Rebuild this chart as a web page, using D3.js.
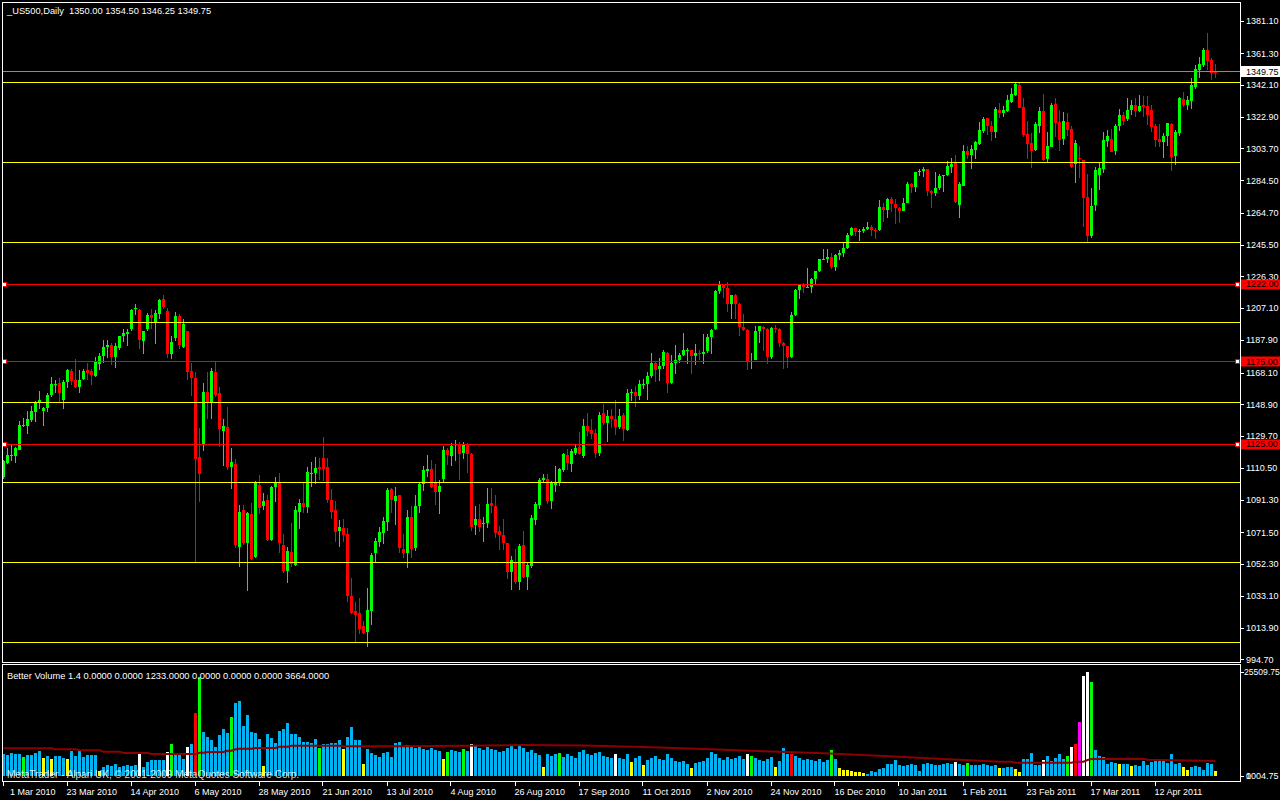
<!DOCTYPE html>
<html><head><meta charset="utf-8">
<script src="https://cdnjs.cloudflare.com/ajax/libs/d3/7.8.5/d3.min.js"></script>
<style>
html,body{margin:0;padding:0;background:#000;overflow:hidden}
text{font-family:"Liberation Sans",Arial,"DejaVu Sans",sans-serif}
</style></head>
<body><svg id="c" width="1280" height="800"></svg>
<script>
// ---------------- DATA ----------------
const opens=[
1105.1,1113.2,1117.5,1117.8,1121.3,1136,1135.8,1139.4,1144.5,1150.1,
1145.1,1146.7,1154.5,1161.2,1162,1151.5,1162.4,1169,1163.6,1159.2,
1164,1169.7,1169,1166,1173.3,1178.1,1183.4,1184.8,1177.7,1183,
1190.4,1191.4,1194.2,1206.3,1205.7,1187.5,1194.5,1202.7,1198,1203.4,
1212.5,1205.4,1179.3,1188.8,1202.3,1183.8,1193,1169,1164.6,1117.2,
1124.9,1156.6,1150.1,1168.6,1156,1132.8,1135,1110.8,1112.8,1062.4,
1085,1064.8,1082.6,1056.3,1100.1,1087.4,1091,1066.8,1099.1,1101.5,
1063.8,1048.3,1059.8,1051.7,1084,1089,1087,1107.2,1107.2,1111.2,
1116.2,1111.2,1091,1085,1072.5,1074.1,1070.5,1033,1023.9,1022.5,
1014.8,1011.4,1024.1,1058.8,1065.8,1070.9,1077.9,1097.5,1090.6,1093.8,
1061.6,1058.8,1080.9,1062,1087.4,1100.5,1108.6,1109.8,1101.5,1096.1,
1103.7,1121.3,1117.9,1124.3,1124.7,1119.2,1124.7,1118.8,1075.9,1079.3,
1076.9,1077.3,1089,1087.4,1072.3,1069.9,1064.8,1047.7,1053.7,1041.6,
1063.8,1044.2,1051.3,1078.9,1088,1103.1,1103.7,1090.4,1100.1,1102.1,
1109.2,1118.2,1112.8,1119.2,1122.9,1117.6,1135.8,1133.4,1131.3,1119.2,
1143.4,1137.8,1141.8,1139.8,1135,1142.4,1133.4,1156,1156.5,1154,
1161,1161.5,1166,1174,1170,1172,1180,1162,1174,1176,
1179,1181.5,1181.6,1178.3,1179.7,1179.3,1181,1189.6,1194.5,1217.5,
1221.5,1219.5,1209.5,1215,1209.8,1195.5,1194,1174.8,1176,1193,
1196,1194.4,1177.3,1195,1194.5,1186,1184.5,1177.3,1203,1218,
1221.2,1219.6,1220.2,1224.8,1229.5,1236.9,1237,1238.1,1231.7,1239.4,
1240.4,1243.6,1251.1,1255.3,1253.3,1254,1255,1256.3,1254.4,1254.1,
1268.3,1266.5,1273,1270.2,1267.8,1266.1,1271,1282.3,1280.1,1289.5,
1290,1291.3,1278.2,1276.6,1279.7,1287.1,1287.5,1292.7,1295.1,1269.5,
1281,1302.2,1299.7,1302.8,1306.4,1314.5,1321.9,1317.5,1313.9,1327,
1325,1326.6,1332,1336,1342.1,1328.6,1312.4,1306.8,1302.8,1317.3,
1326.4,1297.3,1304.8,1330.6,1319.9,1309.4,1319.9,1315.5,1294.3,1298.1,
1296.7,1274.5,1250.8,1269.5,1287.6,1291.3,1308.2,1309.4,1302.2,1317.1,
1323.9,1321.3,1327,1330,1326.6,1330,1329.4,1327,1317.3,1309.4,
1307.8,1311.2,1318.5,1299.1,1313.3,1333.6,1330,1332.6,1340.9,1351.4,
1354.2,1363.3,1357.2,1350];
const highs=[
1115.2,1122.3,1124.3,1123.3,1138.8,1140.4,1144.9,1147.9,1150.9,1157,
1147.5,1156,1165.4,1163.6,1165,1163.6,1170.5,1170.5,1176.3,1169.7,
1170.5,1174.1,1170.5,1177.7,1179.8,1188,1188,1185.8,1185.8,1190.5,
1194.7,1194.5,1206.6,1209.4,1206.5,1193.4,1204.1,1206.5,1205.8,1212.8,
1215.3,1206.9,1190.5,1204.9,1203.5,1200.6,1193.5,1174.1,1168.2,1134.4,
1162,1168.4,1171.1,1174.7,1159.6,1140,1147.5,1122.7,1115.8,1088,
1088,1084,1089,1102.7,1106.2,1095.1,1094,1099.5,1105.1,1107.6,
1070.5,1062.8,1077.3,1087.4,1091.7,1101.1,1111.2,1114.2,1117.2,1116.6,
1128.9,1116.6,1097.5,1090.4,1078.9,1079.5,1073.9,1044,1029.3,1031.5,
1017.8,1038,1059.2,1068.2,1074.9,1080.9,1098.5,1098.1,1098.7,1094.3,
1070.5,1084.9,1087.4,1094,1102.1,1111.6,1118.2,1115.2,1112.8,1103.1,
1123.7,1122.7,1125.7,1127.3,1126.3,1126.3,1125.7,1119.3,1087.4,1088.6,
1080.9,1098.1,1098.1,1094,1075.3,1079.5,1065.3,1057.1,1061.4,1064.3,
1072.3,1052.7,1081.9,1090,1104.5,1106.7,1106.7,1102.7,1111.6,1110.2,
1119.6,1121.7,1121.7,1124.3,1131.9,1140,1143.4,1140,1133.8,1144.4,
1149.1,1145.5,1145.9,1151.5,1145.9,1143.4,1158,1158.5,1160,1163.5,
1164.5,1168.5,1180,1175,1177,1181.5,1180.5,1178.5,1185,1180,
1192,1183,1182,1185.5,1181.5,1191.5,1191.5,1194.5,1218,1223.5,
1222,1223,1215,1215.5,1210,1203.5,1194.5,1180,1196.5,1196.5,
1196.5,1194.8,1195.5,1197,1195,1186.5,1184.5,1204.5,1218.5,1222,
1222.5,1231.5,1225.5,1228,1237,1243,1243,1240.5,1240,1242.3,
1246.7,1252.3,1256,1255.8,1255,1256.4,1259,1257.5,1255.8,1272.5,
1270.5,1274,1274.5,1273,1268,1274,1283.2,1283,1289.5,1291,
1292.3,1291.5,1278.5,1289.7,1288.2,1287.6,1296,1297.7,1299.7,1283.6,
1305.8,1305.2,1305.8,1308.2,1319.9,1322.9,1322.3,1320.3,1329,1331,
1329.4,1336,1340.1,1343.1,1343.1,1334,1320.3,1312.8,1319.9,1329,
1336.6,1313.9,1331,1334.4,1327,1326,1325.4,1317.3,1308.8,1305.2,
1296.7,1288.3,1279.6,1292.7,1295.7,1313.5,1314.9,1315.5,1318.3,1327.6,
1326,1334.4,1333,1334.4,1336,1335.4,1335.4,1330,1318.5,1318.5,
1312.8,1319.3,1318.9,1314.9,1335,1338,1335.4,1346.1,1354.2,1358.8,
1364.3,1373.3,1358.2,1354.5];
const lows=[
1104,1112.8,1114.8,1113.6,1121,1135,1131,1138.4,1138.2,1145.9,
1135.8,1144.3,1153.5,1155.5,1150.3,1146.1,1159,1160.6,1159,1155.5,
1163.6,1163.6,1160.6,1165.6,1169.7,1174.1,1176.7,1172.7,1171.1,1181.5,
1186.5,1184.3,1193.5,1203,1182.3,1179.2,1193.5,1194.4,1185.7,1200.6,
1206.6,1176.7,1176.3,1187.5,1182.4,1183,1163.6,1153.9,1053.7,1090,
1120.7,1140,1140,1153.1,1123.3,1111.6,1109.2,1097.7,1062.2,1050.3,
1064,1036.2,1054.5,1055.7,1082.6,1085,1066,1066.2,1090,1058.8,
1046.7,1040.6,1050.7,1051.1,1073.5,1083.4,1083.4,1099.1,1100.7,1103.1,
1102.5,1089,1079.5,1065.8,1062.4,1065.8,1029.5,1022.1,1005.3,1010,
1010,1002.3,1015.4,1053.1,1062.8,1064.4,1072.5,1083,1076.1,1058.8,
1055.9,1050.1,1055.9,1060.2,1083.4,1096.7,1104.7,1098.1,1088,1082.6,
1101.1,1112.2,1111.6,1114.8,1103.1,1115.8,1107.5,1072.5,1069.9,1071.9,
1065.8,1073.9,1083,1067.8,1060.8,1060.8,1043.2,1036.6,1040.5,1036.6,
1044,1036.6,1050.1,1075.9,1085.6,1101.5,1088.6,1085.6,1096.1,1099.5,
1108.2,1109.2,1108.2,1118.2,1118.2,1116.6,1129.9,1127.7,1116.2,1117.6,
1136.4,1126.3,1134.8,1130.3,1133.8,1126.9,1133,1151,1147.5,1151.5,
1158,1151.5,1165,1162.5,1163,1170.5,1155.5,1161,1167,1174,
1178,1173.5,1167.5,1173,1175.5,1173.5,1180,1179.5,1194,1215.5,
1213.5,1205,1200.5,1200.5,1190.5,1193.5,1169.5,1170,1175.5,1186,
1181,1173.5,1176.5,1192,1183.5,1170.5,1171,1177,1202.5,1212.5,
1216.5,1219.5,1216,1222,1229,1236.5,1234.5,1230.5,1229.5,1236.4,
1238,1243,1250.5,1250.5,1248,1252.7,1254.5,1250.7,1248.7,1253.5,
1259,1261.5,1265,1258,1258.5,1265.8,1270.5,1276.8,1277.4,1287,
1286.3,1275.2,1267.5,1275,1278.8,1277.4,1287,1289.1,1270.5,1261.8,
1281,1297.1,1291.3,1297.3,1305.8,1312.9,1311.8,1308.2,1309.8,1321.9,
1322.5,1326,1331,1335.4,1328,1310.4,1297.3,1292.1,1302.4,1312.9,
1296.3,1295.7,1304.4,1310.8,1302.4,1305.8,1311.2,1292.1,1283,1285.6,
1256.4,1246.3,1249.3,1266.1,1278.6,1289.1,1304.8,1301.8,1299.7,1314.3,
1317.9,1320.5,1323.9,1322.9,1326,1322.5,1317.9,1313.9,1304.8,1304.8,
1298.1,1305.2,1290.3,1293.7,1311.2,1329,1327,1327.6,1339.7,1346.3,
1353.2,1351.2,1345.1,1346.25];
const closes=[
1114.8,1118.2,1118.2,1122.3,1136.4,1136.2,1140,1144.9,1150.1,1151.5,
1146.7,1154.5,1161.2,1161.4,1156,1162.4,1169.7,1163.2,1159.2,1163.6,
1169,1167.9,1166.6,1174.7,1178.1,1183.4,1184.8,1177.7,1184.2,1190,
1192,1192.8,1206.1,1207.2,1187.6,1193,1202.7,1201.4,1204.2,1212.3,
1207.5,1179.3,1186.9,1202.3,1184.8,1197.8,1168.7,1164.6,1115.8,1106.8,
1156.6,1149.5,1169,1154.5,1134,1135.8,1110.8,1114.2,1063.8,1084,
1065.2,1083.4,1055.1,1102.1,1086.4,1090.4,1066.8,1099.1,1101.5,1064.8,
1048.3,1060.4,1052.3,1085,1089.4,1087,1108.2,1107.4,1110.2,1109.8,
1109.8,1091,1084,1071.9,1074.9,1069.9,1033,1022.5,1021.5,1012.8,
1010.4,1024.5,1057.7,1066.2,1071.5,1078.3,1097.1,1091,1093.4,1062.2,
1058.8,1080.9,1061.4,1087.4,1100.7,1109.2,1109.8,1098.7,1096.1,1099.5,
1121.3,1118.2,1123.7,1124.7,1118.8,1124.7,1118.8,1074.9,1079.3,1074.9,
1077.1,1088.6,1087.4,1071.3,1069.9,1064.8,1047.7,1054.7,1041.2,1063.4,
1044.6,1051.7,1079.9,1088.6,1103.1,1104.5,1090.4,1102.1,1102.1,1109.6,
1118.8,1113.2,1120.9,1122.7,1118.8,1135.8,1132.8,1130.9,1119.6,1142.4,
1137.8,1141.8,1139.8,1135,1141.8,1133.8,1156,1156.3,1154,1161,
1161.5,1165.8,1174,1169.8,1172,1180.5,1162,1174,1176,1179,
1181.5,1181.6,1178.3,1179.7,1179.3,1180.4,1189.6,1194,1217.5,1221.8,
1219.2,1209.5,1215,1209.8,1195.5,1194,1174.8,1175.2,1193,1196.2,
1194.4,1177.3,1195,1194.5,1186,1184.5,1177.3,1203,1218,1221.2,
1219.6,1220.2,1224.8,1229.5,1236.9,1237,1238.1,1231.7,1239.4,1240.4,
1243.6,1251.1,1255.3,1253.3,1254,1255,1256.3,1254.4,1254.1,1268.3,
1266.5,1273,1270.2,1267.8,1266.1,1271,1282.3,1280.1,1289.5,1290,
1291.3,1278.2,1276.6,1279.7,1287.1,1287.5,1292.9,1294.3,1271.5,1282.2,
1302.2,1299.7,1303.4,1307.8,1314.9,1321.3,1317.5,1313.9,1327.4,1325,
1327,1333,1336.6,1342.7,1328.4,1311.8,1306.4,1302.4,1318.3,1326.4,
1296.7,1305.2,1330,1319.3,1308.8,1320.3,1314.9,1292.3,1306.8,1297.1,
1273.5,1250.8,1269.1,1290.7,1291.7,1308.8,1311.2,1301.8,1317.5,1323.9,
1320.3,1327,1330,1326.6,1329.4,1328.6,1323.9,1316.9,1308.8,1307.8,
1311.2,1318.9,1298.7,1313.5,1334.4,1330,1333.3,1342.1,1351.7,1355,
1363.3,1356.8,1349.5,1349.75];
const volumes=[
5320,5080,5640,5470,5320,4660,5150,5150,5640,6210,
4420,4910,4170,4830,4830,4420,4170,6210,4910,6210,
4590,5150,5150,5150,1230,2280,2700,2450,2940,2210,
2450,2700,2450,2700,5400,2130,3360,3920,3920,3920,
3920,5890,7850,5150,5150,4100,7110,7850,15530,24360,
10870,9490,8830,7190,10060,11460,10620,14470,17830,18400,
12270,14960,10870,10470,9080,2450,10300,9250,8020,11040,
11530,13070,10300,10300,9640,8270,8410,8020,9080,6790,
7850,7850,8020,8170,8830,6550,9640,12090,8830,8830,
2940,6550,5720,5150,4730,5570,5960,4730,8020,8410,
7360,7600,7110,6870,7110,6620,6380,6870,6380,6130,
4170,5890,6380,6130,5890,6620,6130,7850,7360,6870,
6380,7110,6620,6380,5890,6130,6870,7360,6620,7360,
6870,5890,6380,5640,5150,2210,5400,4910,5400,5640,
4660,5400,4910,4420,5890,6380,5400,5150,5640,5890,
4910,4660,4420,5400,4420,4170,5400,3430,4420,4910,
2700,3920,4420,4910,4170,3920,5400,4420,3680,3430,
3680,2940,1960,3190,3430,3680,4420,5890,5400,4420,
3920,4660,4170,4420,4910,4170,5400,4910,4420,3920,
3680,4170,4660,2210,3680,6870,5400,5400,4910,4420,
3920,4170,3920,3680,4170,3430,3920,6380,4170,1960,
1470,1470,1230,980,980,660,490,1230,980,1720,
1960,2940,2940,3920,2700,2450,2700,2940,2700,1230,
2940,3190,2940,2700,2700,2940,3190,2940,3430,2940,
2700,3190,2700,2700,2700,2940,2700,2450,2700,2040,
2040,2210,2210,1720,980,4170,4170,5640,2700,2700,
3920,4910,3680,4420,5400,4170,4910,7110,7850,13250,
24530,25510,23060,6380,4910,4660,2940,3430,3190,2940,
2940,2940,2450,2700,2450,3680,2700,3430,3680,3680,
3680,3190,5400,2940,3190,2210,1470,2210,2450,2210,
1470,3190,2940,1233];
// Better Volume bar classes (bar indices)
const yellowIdx=[10,12,16,24,65,85,90,110,135,157,160,172,193,209,210,211,212,213,214,215,249,253,254,279,282,295,296,303];
const greenIdx=[5,42,49,57,79,111,115,139,187,207,241,266,272];
const whiteIdx=[34,41,46,117,153,186,238,260,267,270,271];
const redIdx=[48,197,268];
const magentaIdx=[269];
// volume average line, read at bar indices
const maIdx=[0,12,13,18,19,24,25,29,30,36,37,48,49,50,51,55,56,57,58,59,62,63,68,69,71,72,84,85,100,115,130,145,160,175,190,205,220,235,249,252,253,267,268,270,271,272,285,286,303];
const maVal=[6790,6790,6540,6540,6300,6300,5970,5970,5640,5640,5400,5400,5720,5720,5890,5890,6210,6210,6540,6700,6700,6870,6870,7200,7200,7440,7440,7280,7280,7440,7600,7500,7100,6600,6100,5600,4900,4200,3520,3520,3270,3270,3520,3520,3920,4170,4250,4000,3664];
// axes
const priceTicks=[1381.10,1361.30,1342.10,1322.90,1303.70,1284.50,1264.70,1245.50,1226.30,1207.10,1187.90,1168.10,1148.90,1129.70,1110.50,1091.30,1071.50,1052.30,1033.10,1013.90,994.70];
const dateLabels=["1 Mar 2010","23 Mar 2010","14 Apr 2010","6 May 2010","28 May 2010","21 Jun 2010","13 Jul 2010","4 Aug 2010","26 Aug 2010","17 Sep 2010","11 Oct 2010","2 Nov 2010","24 Nov 2010","16 Dec 2010","10 Jan 2011","1 Feb 2011","23 Feb 2011","17 Mar 2011","12 Apr 2011"];
const dateIdx=[0,16,32,48,64,80,96,112,128,144,160,176,192,208,224,240,256,272,288];
// horizontal objects
const yellowLevels=[1343.9,1295.5,1247.1,1198.7,1150.3,1101.9,1053.5,1005.1];
const redLevels=[1222.00,1175.00,1125.00];
const bidPrice=1349.75;
const volMax=25509.75;
const titleText="_US500,Daily  1350.00 1354.50 1346.25 1349.75";
const volTitle="Better Volume 1.4 0.0000 0.0000 1233.0000 0.0000 0.0000 0.0000 3664.0000";
const watermark="MetaTrader - Alpari UK, \u00A9 2001-2009 MetaQuotes Software Corp.";

// ---------------- DRAW ----------------
const svg=d3.select("#c");
const N=closes.length;
const L=2.5, R=1240.5, mainTop=2.5, mainBot=662.5, volTop=664.5, volBot=781.5;
const x=d3.scaleLinear().domain([0,N-1]).range([3.5,3.5+4*(N-1)]);
const y=d3.scaleLinear().domain([994.7,1381.1]).range([659.3,20.5]);
const yv=d3.scaleLinear().domain([0,volMax]).range([776,672]);

svg.append("rect").attr("width",1280).attr("height",800).attr("fill","#000");
const defs=svg.append("defs");
defs.append("clipPath").attr("id","cm").append("rect").attr("x",3).attr("y",3).attr("width",1237).attr("height",659);
defs.append("clipPath").attr("id","cv").append("rect").attr("x",3).attr("y",665).attr("width",1237).attr("height",116);

const idx=d3.range(N);
const up=i=>closes[i]>opens[i];
const cg=svg.append("g").attr("clip-path","url(#cm)").attr("shape-rendering","crispEdges");
cg.selectAll("line.wick").data(idx).join("line")
  .attr("x1",i=>x(i)).attr("x2",i=>x(i))
  .attr("y1",i=>y(highs[i])).attr("y2",i=>y(lows[i]))
  .attr("stroke",i=>up(i)?"#00ff00":"#ff0000").attr("stroke-width",1);
cg.selectAll("rect.body").data(idx).join("rect")
  .attr("x",i=>x(i)-1.5).attr("width",3)
  .attr("y",i=>y(Math.max(opens[i],closes[i])))
  .attr("height",i=>Math.max(1,Math.abs(y(opens[i])-y(closes[i]))))
  .attr("fill",i=>up(i)?"#00ff00":"#ff0000");

// horizontal lines (objects in foreground)
const lg=svg.append("g").attr("shape-rendering","crispEdges");
lg.selectAll("line.yl").data(yellowLevels).join("line")
  .attr("x1",3).attr("x2",1240).attr("y1",d=>Math.round(y(d))+0.5).attr("y2",d=>Math.round(y(d))+0.5)
  .attr("stroke","#ffff00");
lg.append("line").attr("x1",3).attr("x2",1240).attr("y1",Math.round(y(bidPrice))-0.5).attr("y2",Math.round(y(bidPrice))-0.5).attr("stroke","#8c8c8c");
lg.selectAll("line.rl").data(redLevels).join("line")
  .attr("x1",3).attr("x2",1240).attr("y1",d=>Math.round(y(d))+0.5).attr("y2",d=>Math.round(y(d))+0.5)
  .attr("stroke","#ff0000");
redLevels.forEach(d=>{
  const yy=Math.round(y(d))+0.5;
  [5,1237.5].forEach(cx=>{
    lg.append("rect").attr("x",cx-2.5).attr("y",yy-2.5).attr("width",4).attr("height",4)
      .attr("fill","#fff").attr("stroke","#ff0000").attr("stroke-width",1);
  });
});

// volume bars
const vcol=i=>yellowIdx.includes(i)?"#ffff00":greenIdx.includes(i)?"#00ff00":whiteIdx.includes(i)?"#ffffff":redIdx.includes(i)?"#ff0000":magentaIdx.includes(i)?"#ff00ff":"#00b2f0";
const vg=svg.append("g").attr("clip-path","url(#cv)").attr("shape-rendering","crispEdges");
vg.selectAll("rect.v").data(idx).join("rect")
  .attr("x",i=>x(i)-1.5).attr("width",3)
  .attr("y",i=>yv(volumes[i])).attr("height",i=>yv(0)-yv(volumes[i]))
  .attr("fill",vcol);
const maLine=d3.line().x((d,k)=>x(maIdx[k])).y(d=>yv(d));
vg.append("path").attr("d",maLine(maVal)).attr("fill","none").attr("stroke","#8b0000").attr("stroke-width",2).attr("shape-rendering","auto");

// frames
const fg=svg.append("g").attr("shape-rendering","crispEdges").attr("fill","none").attr("stroke","#fff");
fg.append("rect").attr("x",L).attr("y",mainTop).attr("width",R-L).attr("height",mainBot-mainTop);
fg.append("rect").attr("x",L).attr("y",volTop).attr("width",R-L).attr("height",volBot-volTop);

// right price axis
const ag=svg.append("g");
ag.selectAll("line.pt").data(priceTicks).join("line")
  .attr("x1",1241).attr("x2",1244).attr("y1",d=>Math.round(y(d))+0.5).attr("y2",d=>Math.round(y(d))+0.5)
  .attr("stroke","#fff").attr("shape-rendering","crispEdges");
ag.selectAll("text.pl").data(priceTicks).join("text")
  .attr("x",1246).attr("y",d=>y(d)+3.3).attr("fill","#fff").attr("font-size","9px")
  .text(d=>d.toFixed(2));
// bid label
ag.append("rect").attr("x",1241).attr("y",Math.round(y(bidPrice))-6).attr("width",39).attr("height",11).attr("fill","#fff");
ag.append("text").attr("x",1246).attr("y",y(bidPrice)+2.3).attr("fill","#000").attr("font-size","9px").text(bidPrice.toFixed(2));
// red level labels
redLevels.forEach(d=>{
  ag.append("rect").attr("x",1241).attr("y",Math.round(y(d))-4.5).attr("width",39).attr("height",10).attr("fill","#ff0000");
  ag.append("text").attr("x",1246).attr("y",y(d)+3.6).attr("fill","#000").attr("font-size","9px").text(d.toFixed(2));
});
// volume axis
[[volMax,volMax.toFixed(2),1244,8.6],[0,"0",1246,9],[0,"1004.75",1246,9]].forEach(([v,t,tx,fs])=>{
  ag.append("line").attr("x1",1241).attr("x2",1244).attr("y1",Math.round(yv(v))+0.5).attr("y2",Math.round(yv(v))+0.5).attr("stroke","#fff").attr("shape-rendering","crispEdges");
  ag.append("text").attr("x",tx).attr("y",yv(v)+3.3).attr("fill","#fff").attr("font-size",fs+"px").text(t);
});

// x axis
ag.selectAll("line.xt").data(dateIdx).join("line")
  .attr("x1",i=>Math.round(x(i))-0.5).attr("x2",i=>Math.round(x(i))-0.5).attr("y1",782).attr("y2",786)
  .attr("stroke","#fff").attr("shape-rendering","crispEdges");
ag.selectAll("text.xl").data(dateLabels).join("text")
  .attr("x",(d,k)=>k===0?10:x(dateIdx[k])-1).attr("y",795).attr("fill","#fff").attr("font-size","9px")
  .text(d=>d);

// titles
svg.append("text").attr("x",7).attr("y",14).attr("fill","#fff").attr("font-size","9.3px").attr("xml:space","preserve").style("white-space","pre").text(titleText);
svg.append("text").attr("x",7).attr("y",678.5).attr("fill","#fff").attr("font-size","9.3px").text(volTitle);
svg.append("text").attr("x",7).attr("y",778).attr("fill","#ffffff").attr("fill-opacity",0.85).attr("font-size","10px").text(watermark);
</script>
</body></html>
